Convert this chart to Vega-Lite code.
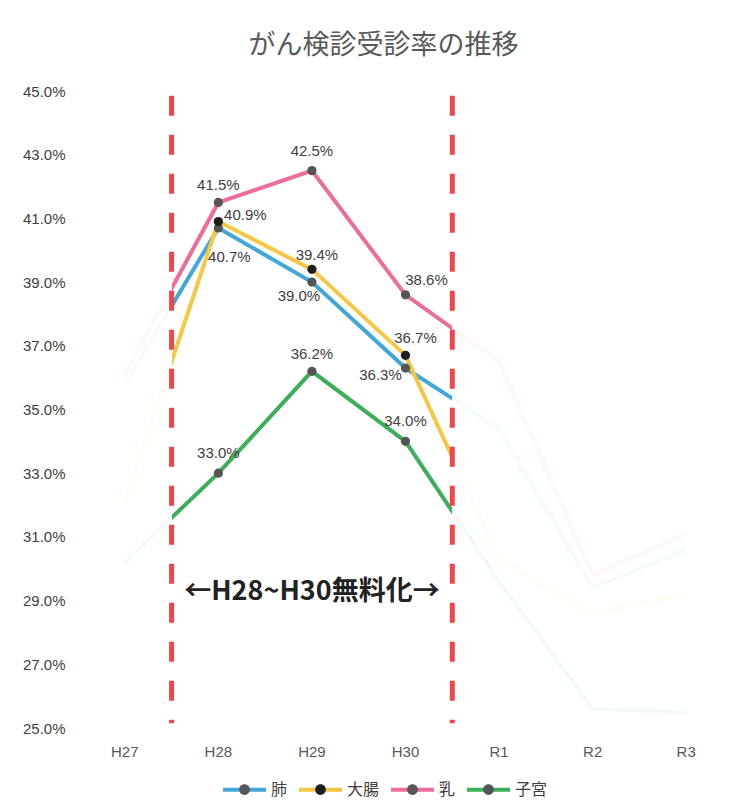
{
  "$schema": "https://vega.github.io/schema/vega-lite/v6.json",
  "width": 655,
  "height": 637,
  "autosize": {"type": "none"},
  "padding": {"left": 78, "top": 91, "right": 20, "bottom": 77},
  "background": "white",
  "config": {"view": {"stroke": null}, "font": "Liberation Sans"},
  "title": {
    "text": "がん検診受診率の推移",
    "font": "Noto Sans CJK JP",
    "fontSize": 27,
    "fontWeight": "normal",
    "color": "#595959",
    "anchor": "middle",
    "dx": -22,
    "offset": 24
  },
  "datasets": {
    "rates": [
      {"year": "H27", "series": "肺", "value": 0.358},
      {"year": "H28", "series": "肺", "value": 0.407},
      {"year": "H29", "series": "肺", "value": 0.390},
      {"year": "H30", "series": "肺", "value": 0.363},
      {"year": "R1", "series": "肺", "value": 0.344},
      {"year": "R2", "series": "肺", "value": 0.294},
      {"year": "R3", "series": "肺", "value": 0.306},
      {"year": "H27", "series": "大腸", "value": 0.321},
      {"year": "H28", "series": "大腸", "value": 0.409},
      {"year": "H29", "series": "大腸", "value": 0.394},
      {"year": "H30", "series": "大腸", "value": 0.367},
      {"year": "R1", "series": "大腸", "value": 0.303},
      {"year": "R2", "series": "大腸", "value": 0.286},
      {"year": "R3", "series": "大腸", "value": 0.292},
      {"year": "H27", "series": "乳", "value": 0.361},
      {"year": "H28", "series": "乳", "value": 0.415},
      {"year": "H29", "series": "乳", "value": 0.425},
      {"year": "H30", "series": "乳", "value": 0.386},
      {"year": "R1", "series": "乳", "value": 0.365},
      {"year": "R2", "series": "乳", "value": 0.298},
      {"year": "R3", "series": "乳", "value": 0.311},
      {"year": "H27", "series": "子宮", "value": 0.302},
      {"year": "H28", "series": "子宮", "value": 0.330},
      {"year": "H29", "series": "子宮", "value": 0.362},
      {"year": "H30", "series": "子宮", "value": 0.340},
      {"year": "R1", "series": "子宮", "value": 0.296},
      {"year": "R2", "series": "子宮", "value": 0.256},
      {"year": "R3", "series": "子宮", "value": 0.255}
    ],
    "dividers": [{"after": "H27"}, {"after": "H30"}],
    "notes": [{"year": "H29", "note": "←H28~H30無料化→"}]
  },
  "layer": [
    {
      "data": {"name": "rates"},
      "mark": {"type": "line", "strokeWidth": 4, "strokeOpacity": 0.06},
      "encoding": {
        "x": {
          "field": "year",
          "type": "ordinal",
          "bandPosition": 0.5,
          "scale": {"type": "band", "domain": ["H27", "H28", "H29", "H30", "R1", "R2", "R3"], "paddingInner": 0, "paddingOuter": 0},
          "axis": {"domain": false, "ticks": false, "grid": false, "labelAngle": 0, "labelFontSize": 15, "labelColor": "#595959", "labelPadding": 16, "title": null}
        },
        "y": {
          "field": "value",
          "type": "quantitative",
          "scale": {"domain": [0.25, 0.45], "nice": false, "zero": false},
          "axis": {"values": [0.25, 0.27, 0.29, 0.31, 0.33, 0.35, 0.37, 0.39, 0.41, 0.43, 0.45], "format": ".1%", "domain": false, "ticks": false, "grid": false, "labelFontSize": 15, "labelColor": "#404040", "labelPadding": 13, "title": null}
        },
        "stroke": {
          "field": "series",
          "type": "nominal",
          "scale": {"domain": ["肺", "大腸", "乳", "子宮"], "range": ["#41A7D8", "#F7C744", "#EE6C9B", "#3BAE57"]},
          "legend": {
            "orient": "none", "legendX": 143, "legendY": 675, "direction": "horizontal", "title": null,
            "symbolType": "M-1,0H1", "symbolSize": 1849, "symbolStrokeWidth": 4, "symbolOpacity": 1,
            "labelFont": "Noto Sans CJK JP", "labelFontSize": 16, "labelColor": "#404040", "labelOffset": 3, "columnPadding": 3, "padding": 0,
            "encode": {"symbols": {"update": {"strokeOpacity": {"value": 1}, "opacity": {"value": 1}}}}
          }
        }
      }
    },
    {
      "data": {"name": "rates"},
      "transform": [{"filter": "datum.series === '肺'"}],
      "mark": {"type": "line", "strokeWidth": 4, "stroke": {"gradient": "linear", "x1": 0, "y1": 0, "x2": 1, "y2": 0, "stops": [
        {"offset": 0, "color": "rgba(255,255,255,0)"}, {"offset": 0.0833, "color": "rgba(255,255,255,0)"},
        {"offset": 0.0834, "color": "#41A7D8"}, {"offset": 0.5833, "color": "#41A7D8"},
        {"offset": 0.5834, "color": "rgba(255,255,255,0)"}, {"offset": 1, "color": "rgba(255,255,255,0)"}]}},
      "encoding": {"x": {"field": "year", "type": "ordinal", "bandPosition": 0.5}, "y": {"field": "value", "type": "quantitative"}}
    },
    {
      "data": {"name": "rates"},
      "transform": [{"filter": "datum.series === '大腸'"}],
      "mark": {"type": "line", "strokeWidth": 4, "stroke": {"gradient": "linear", "x1": 0, "y1": 0, "x2": 1, "y2": 0, "stops": [
        {"offset": 0, "color": "rgba(255,255,255,0)"}, {"offset": 0.0833, "color": "rgba(255,255,255,0)"},
        {"offset": 0.0834, "color": "#F7C744"}, {"offset": 0.5833, "color": "#F7C744"},
        {"offset": 0.5834, "color": "rgba(255,255,255,0)"}, {"offset": 1, "color": "rgba(255,255,255,0)"}]}},
      "encoding": {"x": {"field": "year", "type": "ordinal", "bandPosition": 0.5}, "y": {"field": "value", "type": "quantitative"}}
    },
    {
      "data": {"name": "rates"},
      "transform": [{"filter": "datum.series === '乳'"}],
      "mark": {"type": "line", "strokeWidth": 4, "stroke": {"gradient": "linear", "x1": 0, "y1": 0, "x2": 1, "y2": 0, "stops": [
        {"offset": 0, "color": "rgba(255,255,255,0)"}, {"offset": 0.0833, "color": "rgba(255,255,255,0)"},
        {"offset": 0.0834, "color": "#EE6C9B"}, {"offset": 0.5833, "color": "#EE6C9B"},
        {"offset": 0.5834, "color": "rgba(255,255,255,0)"}, {"offset": 1, "color": "rgba(255,255,255,0)"}]}},
      "encoding": {"x": {"field": "year", "type": "ordinal", "bandPosition": 0.5}, "y": {"field": "value", "type": "quantitative"}}
    },
    {
      "data": {"name": "rates"},
      "transform": [{"filter": "datum.series === '子宮'"}],
      "mark": {"type": "line", "strokeWidth": 4, "stroke": {"gradient": "linear", "x1": 0, "y1": 0, "x2": 1, "y2": 0, "stops": [
        {"offset": 0, "color": "rgba(255,255,255,0)"}, {"offset": 0.0833, "color": "rgba(255,255,255,0)"},
        {"offset": 0.0834, "color": "#3BAE57"}, {"offset": 0.5833, "color": "#3BAE57"},
        {"offset": 0.5834, "color": "rgba(255,255,255,0)"}, {"offset": 1, "color": "rgba(255,255,255,0)"}]}},
      "encoding": {"x": {"field": "year", "type": "ordinal", "bandPosition": 0.5}, "y": {"field": "value", "type": "quantitative"}}
    },
    {
      "data": {"name": "dividers"},
      "mark": {"type": "rule", "stroke": "#F0454B", "strokeWidth": 5, "strokeDash": [20, 19]},
      "encoding": {
        "x": {"field": "after", "type": "ordinal", "bandPosition": 1},
        "y": {"datum": 0.4485, "type": "quantitative"},
        "y2": {"datum": 0.2515}
      }
    },
    {
      "data": {"name": "rates"},
      "transform": [{"filter": "datum.year === 'H28' || datum.year === 'H29' || datum.year === 'H30'"}],
      "mark": {"type": "circle", "size": 85, "opacity": 1},
      "encoding": {
        "x": {"field": "year", "type": "ordinal", "bandPosition": 0.5},
        "y": {"field": "value", "type": "quantitative"},
        "fill": {
          "field": "series",
          "type": "nominal",
          "sort": ["肺", "大腸", "乳", "子宮"],
          "scale": {"range": ["#555555", "#1e1e1e", "#555555", "#555555"]},
          "legend": {
            "orient": "none", "legendX": 143, "legendY": 675, "direction": "horizontal", "title": null,
            "symbolType": "M-1,0H1M-0.25,0A0.25,0.25 0 1 0 0.25,0A0.25,0.25 0 1 0 -0.25,0Z", "symbolSize": 1849, "symbolStrokeWidth": 4,
            "symbolStrokeColor": "transparent", "symbolOpacity": 1,
            "labelFont": "Noto Sans CJK JP", "labelFontSize": 16, "labelColor": "#404040", "labelOpacity": 0, "labelOffset": 3, "columnPadding": 3, "padding": 0
          }
        }
      }
    },
    {
      "data": {"name": "rates"},
      "transform": [{"filter": "(datum.series === '乳' && datum.year === 'H28') || (datum.series === '子宮' && datum.year === 'H29')"}],
      "mark": {"type": "text", "fontSize": 15, "fill": "#404040", "baseline": "middle", "align": "center", "dy": -17},
      "encoding": {"x": {"field": "year", "type": "ordinal", "bandPosition": 0.5}, "y": {"field": "value", "type": "quantitative"}, "text": {"field": "value", "type": "quantitative", "format": ".1%"}}
    },
    {
      "data": {"name": "rates"},
      "transform": [{"filter": "(datum.series === '乳' && datum.year === 'H29') || (datum.series === '子宮' && datum.year === 'H28') || (datum.series === '子宮' && datum.year === 'H30')"}],
      "mark": {"type": "text", "fontSize": 15, "fill": "#404040", "baseline": "middle", "align": "center", "dy": -20},
      "encoding": {"x": {"field": "year", "type": "ordinal", "bandPosition": 0.5}, "y": {"field": "value", "type": "quantitative"}, "text": {"field": "value", "type": "quantitative", "format": ".1%"}}
    },
    {
      "data": {"name": "rates"},
      "transform": [{"filter": "datum.series === '乳' && datum.year === 'H30'"}],
      "mark": {"type": "text", "fontSize": 15, "fill": "#404040", "baseline": "middle", "align": "center", "dx": 21, "dy": -15},
      "encoding": {"x": {"field": "year", "type": "ordinal", "bandPosition": 0.5}, "y": {"field": "value", "type": "quantitative"}, "text": {"field": "value", "type": "quantitative", "format": ".1%"}}
    },
    {
      "data": {"name": "rates"},
      "transform": [{"filter": "datum.series === '大腸' && datum.year === 'H28'"}],
      "mark": {"type": "text", "fontSize": 15, "fill": "#404040", "baseline": "middle", "align": "center", "dx": 27, "dy": -7},
      "encoding": {"x": {"field": "year", "type": "ordinal", "bandPosition": 0.5}, "y": {"field": "value", "type": "quantitative"}, "text": {"field": "value", "type": "quantitative", "format": ".1%"}}
    },
    {
      "data": {"name": "rates"},
      "transform": [{"filter": "datum.series === '肺' && datum.year === 'H28'"}],
      "mark": {"type": "text", "fontSize": 15, "fill": "#404040", "baseline": "middle", "align": "center", "dx": 11, "dy": 29},
      "encoding": {"x": {"field": "year", "type": "ordinal", "bandPosition": 0.5}, "y": {"field": "value", "type": "quantitative"}, "text": {"field": "value", "type": "quantitative", "format": ".1%"}}
    },
    {
      "data": {"name": "rates"},
      "transform": [{"filter": "datum.series === '大腸' && datum.year === 'H29'"}],
      "mark": {"type": "text", "fontSize": 15, "fill": "#404040", "baseline": "middle", "align": "center", "dx": 5, "dy": -14},
      "encoding": {"x": {"field": "year", "type": "ordinal", "bandPosition": 0.5}, "y": {"field": "value", "type": "quantitative"}, "text": {"field": "value", "type": "quantitative", "format": ".1%"}}
    },
    {
      "data": {"name": "rates"},
      "transform": [{"filter": "datum.series === '肺' && datum.year === 'H29'"}],
      "mark": {"type": "text", "fontSize": 15, "fill": "#404040", "baseline": "middle", "align": "center", "dx": -13, "dy": 14},
      "encoding": {"x": {"field": "year", "type": "ordinal", "bandPosition": 0.5}, "y": {"field": "value", "type": "quantitative"}, "text": {"field": "value", "type": "quantitative", "format": ".1%"}}
    },
    {
      "data": {"name": "rates"},
      "transform": [{"filter": "datum.series === '大腸' && datum.year === 'H30'"}],
      "mark": {"type": "text", "fontSize": 15, "fill": "#404040", "baseline": "middle", "align": "center", "dx": 10, "dy": -17},
      "encoding": {"x": {"field": "year", "type": "ordinal", "bandPosition": 0.5}, "y": {"field": "value", "type": "quantitative"}, "text": {"field": "value", "type": "quantitative", "format": ".1%"}}
    },
    {
      "data": {"name": "rates"},
      "transform": [{"filter": "datum.series === '肺' && datum.year === 'H30'"}],
      "mark": {"type": "text", "fontSize": 15, "fill": "#404040", "baseline": "middle", "align": "center", "dx": -25, "dy": 7},
      "encoding": {"x": {"field": "year", "type": "ordinal", "bandPosition": 0.5}, "y": {"field": "value", "type": "quantitative"}, "text": {"field": "value", "type": "quantitative", "format": ".1%"}}
    },
    {
      "data": {"name": "notes"},
      "mark": {"type": "text", "font": "Noto Sans CJK JP", "fontSize": 27, "fontWeight": "bold", "fill": "#222222", "baseline": "middle", "align": "center"},
      "encoding": {
        "x": {"field": "year", "type": "ordinal", "bandPosition": 0.5},
        "y": {"datum": 0.2928, "type": "quantitative"},
        "text": {"field": "note", "type": "nominal"}
      }
    }
  ]
}
